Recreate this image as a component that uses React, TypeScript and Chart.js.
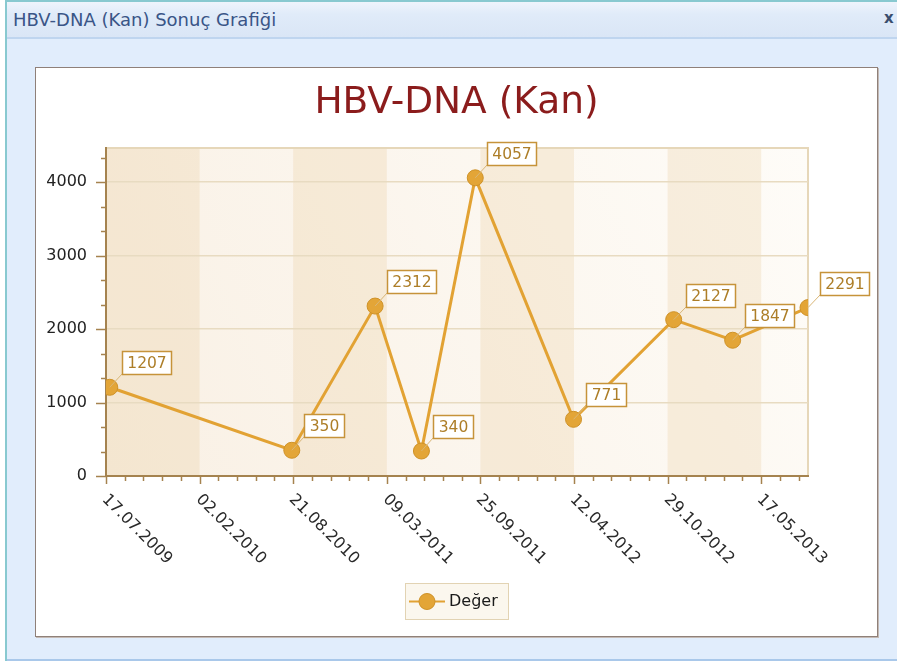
import React, { useEffect, useRef } from "react";
import { Chart, registerables } from "chart.js";

Chart.register(...registerables);

// ---------- data ----------
const WINDOW_TITLE = "HBV-DNA (Kan) Sonuç Grafiği";
const CHART_TITLE = "HBV-DNA (Kan)";
const SERIES_LABEL = "Değer";
const DATES = [
  "25.07.2009",
  "18.08.2010",
  "12.02.2011",
  "22.05.2011",
  "14.09.2011",
  "11.04.2012",
  "11.11.2012",
  "17.03.2013",
  "25.08.2013",
];
const VALUES = [1207, 350, 2312, 340, 4057, 771, 2127, 1847, 2291];
const X_AXIS_START = "17.07.2009";
const X_MAJOR_STEP_DAYS = 200;
const X_MINOR_PER_MAJOR = 5;
const Y_MAJOR_STEP = 1000;
const Y_MINOR_PER_MAJOR = 3;

// ---------- helpers ----------
const DAY = 86400000;
const FONT = '"DejaVu Sans", sans-serif';
const AXIS_COLOR = "#A5834F";
const toMs = (s: string) => {
  const [d, m, y] = s.split(".").map(Number);
  return Date.UTC(y, m - 1, d);
};
const pad = (n: number) => (n < 10 ? "0" + n : String(n));
const fmt = (ms: number) => {
  const d = new Date(ms);
  return `${pad(d.getUTCDate())}.${pad(d.getUTCMonth() + 1)}.${d.getUTCFullYear()}`;
};

const decorPlugin = {
  id: "decor",
  beforeDraw(chart: any) {
    const { ctx, chartArea: a, scales } = chart;
    const x = scales.x;
    ctx.save();
    const g = ctx.createLinearGradient(a.left, a.bottom, a.right, a.top);
    g.addColorStop(0, "#F9F0E4");
    g.addColorStop(1, "#FEFCF8");
    ctx.fillStyle = g;
    ctx.fillRect(a.left, a.top, a.right - a.left, a.bottom - a.top);
    const step = X_MAJOR_STEP_DAYS * DAY;
    let i = 0;
    for (let v = x.min; v < x.max; v += step, i++) {
      const x0 = x.getPixelForValue(v);
      const x1 = Math.min(x.getPixelForValue(v + step), a.right);
      if (i % 2 === 0) {
        ctx.fillStyle = "rgba(232, 203, 158, 0.28)";
        ctx.fillRect(x0, a.top, x1 - x0, a.bottom - a.top);
      }
    }
    // top & right light border
    ctx.strokeStyle = "#E6D7B9";
    ctx.lineWidth = 2;
    ctx.beginPath();
    ctx.moveTo(a.left, a.top);
    ctx.lineTo(a.right, a.top);
    ctx.lineTo(a.right, a.bottom);
    ctx.stroke();
    ctx.restore();
  },
  afterDatasetsDraw(chart: any) {
    const { ctx } = chart;
    const meta = chart.getDatasetMeta(0);
    const ds = chart.data.datasets[0];
    ctx.save();
    ctx.font = `15.5px ${FONT}`;
    meta.data.forEach((pt: any, i: number) => {
      const px = pt.x;
      const py = pt.y;
      const text = String(ds.data[i].y);
      const w = Math.round(ctx.measureText(text).width + 10);
      const h = 23;
      const bx = Math.round(px + 12);
      const by = Math.round(py - 13 - h);
      ctx.strokeStyle = "#D9B677";
      ctx.lineWidth = 1;
      ctx.beginPath();
      ctx.moveTo(px, py);
      ctx.lineTo(bx, by + h);
      ctx.stroke();
      ctx.fillStyle = "#FFFFFF";
      ctx.fillRect(bx, by, w, h);
      ctx.strokeStyle = "#C6933A";
      ctx.lineWidth = 1.5;
      ctx.strokeRect(bx + 0.5, by + 0.5, w, h);
      ctx.fillStyle = "#AD7E28";
      ctx.textAlign = "center";
      ctx.textBaseline = "middle";
      ctx.fillText(text, bx + w / 2 + 0.5, by + h / 2 + 1);
    });
    ctx.restore();
  },
  afterDraw(chart: any) {
    const { ctx, chartArea: a, scales } = chart;
    const x = scales.x;
    const y = scales.y;
    ctx.save();
    ctx.strokeStyle = AXIS_COLOR;
    ctx.lineWidth = 1.5;
    // y ticks
    const yMinor = Y_MAJOR_STEP / Y_MINOR_PER_MAJOR;
    for (let k = 0; k * yMinor <= y.max + 1e-6; k++) {
      const py = Math.round(y.getPixelForValue(k * yMinor)) + 0.5;
      const len = k % Y_MINOR_PER_MAJOR === 0 ? 10 : 5;
      ctx.beginPath();
      ctx.moveTo(a.left - len, py);
      ctx.lineTo(a.left, py);
      ctx.stroke();
    }
    // x ticks + labels
    const xMinor = (X_MAJOR_STEP_DAYS * DAY) / X_MINOR_PER_MAJOR;
    ctx.font = `16px ${FONT}`;
    ctx.fillStyle = "#2A2A2A";
    ctx.textAlign = "left";
    ctx.textBaseline = "middle";
    for (let k = 0; x.min + k * xMinor <= x.max + 1; k++) {
      const v = x.min + k * xMinor;
      const px = Math.round(x.getPixelForValue(v)) + 0.5;
      const major = k % X_MINOR_PER_MAJOR === 0;
      ctx.beginPath();
      ctx.moveTo(px, a.bottom);
      ctx.lineTo(px, a.bottom + (major ? 8 : 5));
      ctx.stroke();
      if (major) {
        ctx.save();
        ctx.translate(px - 2, a.bottom + 21);
        ctx.rotate(Math.PI / 4);
        ctx.fillText(fmt(v), 0, 0);
        ctx.restore();
      }
    }
    // legend
    const ds = chart.data.datasets[0];
    ctx.font = `16px ${FONT}`;
    const tw = ctx.measureText(ds.label).width;
    const bw = Math.round(44 + tw + 10);
    const bh = 36;
    const bx = Math.round(chart.width / 2 - bw / 2);
    const by = chart.height - 53;
    ctx.fillStyle = "#FBF7EE";
    ctx.fillRect(bx, by, bw, bh);
    ctx.strokeStyle = "#E2D3B3";
    ctx.lineWidth = 1;
    ctx.strokeRect(bx + 0.5, by + 0.5, bw, bh);
    const cy = by + bh / 2 + 0.5;
    ctx.strokeStyle = ds.borderColor;
    ctx.lineWidth = 2;
    ctx.beginPath();
    ctx.moveTo(bx + 4, cy);
    ctx.lineTo(bx + 40, cy);
    ctx.stroke();
    ctx.fillStyle = ds.pointBackgroundColor;
    ctx.strokeStyle = ds.pointBorderColor;
    ctx.lineWidth = 1;
    ctx.beginPath();
    ctx.arc(bx + 22, cy, 8, 0, Math.PI * 2);
    ctx.fill();
    ctx.stroke();
    ctx.fillStyle = "#1A1A1A";
    ctx.textAlign = "left";
    ctx.textBaseline = "middle";
    ctx.fillText(ds.label, bx + 44, cy);
    ctx.restore();
  },
};

function HbvChart() {
  const ref = useRef<HTMLCanvasElement | null>(null);
  useEffect(() => {
    if (!ref.current) return;
    const xMin = toMs(X_AXIS_START);
    const xMax = toMs(DATES[DATES.length - 1]);
    const yMax = Math.max(...VALUES) * 1.1;
    const chart = new Chart(ref.current, {
      type: "line",
      data: {
        datasets: [
          {
            label: SERIES_LABEL,
            data: DATES.map((d, i) => ({ x: toMs(d), y: VALUES[i] })),
            borderColor: "#E2A233",
            borderWidth: 3,
            pointRadius: 8,
            pointHoverRadius: 8,
            pointBackgroundColor: "#E3A537",
            pointBorderColor: "#CF9228",
            pointBorderWidth: 1,
            tension: 0,
            clip: 0,
            yAxisID: "y",
          } as any,
        ],
      },
      options: {
        responsive: false,
        animation: false,
        devicePixelRatio: 1,
        events: [],
        layout: { padding: { left: 0, right: 0, top: 0, bottom: 60 } },
        plugins: {
          legend: { display: false },
          tooltip: { enabled: false },
          title: {
            display: true,
            text: CHART_TITLE,
            color: "#8B1C1C",
            font: { family: FONT, size: 37.5, weight: "normal", lineHeight: 1.2 },
            padding: { top: 12.5, bottom: 22.5 },
          },
        },
        scales: {
          x: {
            type: "linear",
            min: xMin,
            max: xMax,
            ticks: { display: false },
            grid: { display: false, drawTicks: false },
            border: { display: true, color: AXIS_COLOR, width: 2 },
            afterFit: (s: any) => {
              s.height = 100;
            },
          },
          y: {
            position: "left",
            min: 0,
            max: yMax,
            ticks: {
              padding: 19,
              color: "#222222",
              font: { family: FONT, size: 16 },
              callback: (v: any) => String(v),
            },
            afterBuildTicks: (s: any) => {
              const t: any[] = [];
              for (let v = 0; v <= s.max; v += Y_MAJOR_STEP) t.push({ value: v });
              s.ticks = t;
            },
            grid: {
              color: (c: any) =>
                c.tick && c.tick.value === 0 ? "rgba(0,0,0,0)" : "#E8DBC1",
              lineWidth: 1.5,
              drawTicks: false,
            },
            border: { display: true, color: AXIS_COLOR, width: 2 },
            afterFit: (s: any) => {
              s.width = 70;
            },
          },
          ySpacer: {
            position: "right",
            display: true,
            min: 0,
            max: 1,
            ticks: { display: false },
            grid: { display: false, drawTicks: false },
            border: { display: false },
            afterFit: (s: any) => {
              s.width = 69;
            },
          },
        },
      } as any,
      plugins: [decorPlugin],
    });
    return () => chart.destroy();
  }, []);
  return <canvas ref={ref} width={841} height={568} style={{ display: "block", width: 841, height: 568 }} />;
}

export default function App() {
  const abs = (s: React.CSSProperties): React.CSSProperties => ({ position: "absolute", ...s });
  return (
    <div
      style={{
        position: "fixed",
        left: 0,
        top: 0,
        width: 897,
        height: 661,
        background: "#FFFFFF",
        overflow: "hidden",
        fontFamily: FONT,
      }}
    >
      <div style={abs({ left: 5, top: 0, width: 892, height: 661, background: "#E1EDFC" })} />
      <div
        style={abs({
          left: 7,
          top: 2,
          width: 890,
          height: 35,
          background: "linear-gradient(to bottom, #EEF4FC 0%, #E0EBF9 35%, #DAE6F6 100%)",
        })}
      />
      <div style={abs({ left: 7, top: 37, width: 890, height: 2, background: "#BFD5EF" })} />
      <div style={abs({ left: 5, top: 0, width: 892, height: 2, background: "#88C9D0" })} />
      <div style={abs({ left: 5, top: 0, width: 2, height: 661, background: "#88C9D0" })} />
      <div style={abs({ left: 7, top: 659, width: 890, height: 2, background: "#A9C8EA" })} />
      <div
        style={abs({
          left: 13,
          top: 9,
          fontSize: 18,
          lineHeight: "22px",
          color: "#3A5587",
          whiteSpace: "nowrap",
        })}
      >
        {WINDOW_TITLE}
      </div>
      <div
        style={abs({
          left: 884,
          top: 8,
          fontSize: 15,
          lineHeight: "20px",
          fontWeight: "bold",
          color: "#3A4E6E",
        })}
      >
        x
      </div>
      <div
        style={abs({
          left: 35,
          top: 67,
          width: 843,
          height: 570,
          boxSizing: "border-box",
          border: "1px solid #8F8079",
          boxShadow: "1px 1px 0 #C4BAB4",
          background: "#FFFFFF",
        })}
      >
        <HbvChart />
      </div>
    </div>
  );
}
